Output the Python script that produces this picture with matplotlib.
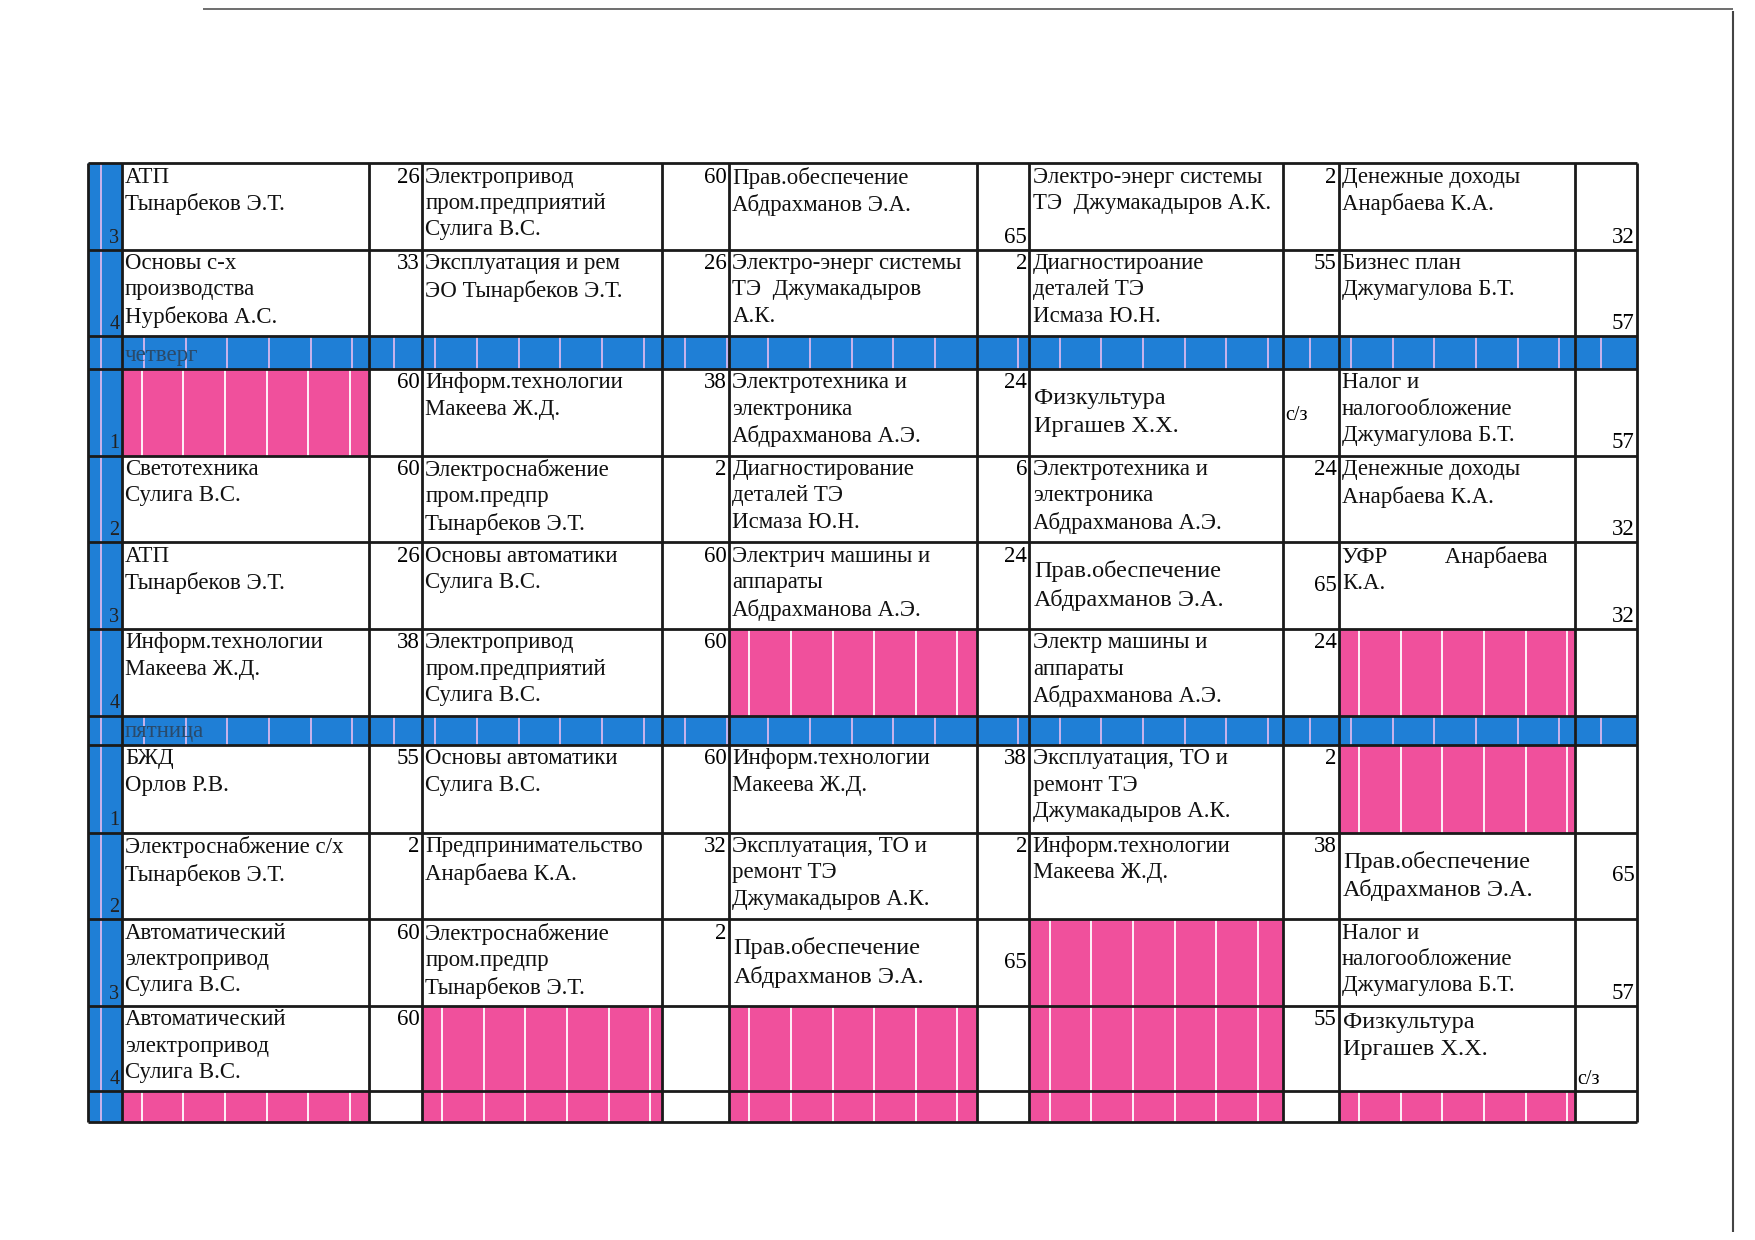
import numpy as np
import matplotlib.pyplot as plt

plt.rcParams['font.family'] = ['Liberation Serif', 'DejaVu Serif']

# column edges (page units), pairs: subject / room
col_x = [78, 108, 328, 375, 588, 648, 868, 915, 1140, 1190, 1400, 1455]
# row edges
row_y = [145, 222, 299, 328, 405, 482, 559, 636, 662, 740, 817, 894, 970, 997]

# each row: kind, lesson number, cells (text, room, text valign, room valign); None = pink
P = None
rows = [
    ('lesson', '3', [
        ("АТП\nТынарбеков Э.Т.", "26", 't', 't'),
        ("Электропривод\nпром.предприятий\nСулига В.С.", "60", 't', 't'),
        ("Прав.обеспечение\nАбдрахманов Э.А.", "65", 't', 'b'),
        ("Электро-энерг системы\nТЭ  Джумакадыров А.К.", "2", 't', 't'),
        ("Денежные доходы\nАнарбаева К.А.", "32", 't', 'b')]),
    ('lesson', '4', [
        ("Основы с-х\nпроизводства\nНурбекова А.С.", "33", 't', 't'),
        ("Эксплуатация и рем\nЭО Тынарбеков Э.Т.", "26", 't', 't'),
        ("Электро-энерг системы\nТЭ  Джумакадыров\nА.К.", "2", 't', 't'),
        ("Диагностироание\nдеталей ТЭ\nИсмаза Ю.Н.", "55", 't', 't'),
        ("Бизнес план\nДжумагулова Б.Т.", "57", 't', 'b')]),
    ('day', 'четверг', None),
    ('lesson', '1', [
        (P, "60", 't', 't'),
        ("Информ.технологии\nМакеева Ж.Д.", "38", 't', 't'),
        ("Электротехника и\nэлектроника\nАбдрахманова А.Э.", "24", 't', 't'),
        ("Физкультура\nИргашев Х.Х.", "с/з", 'c', 'cl'),
        ("Налог и\nналогообложение\nДжумагулова Б.Т.", "57", 't', 'b')]),
    ('lesson', '2', [
        ("Светотехника\nСулига В.С.", "60", 't', 't'),
        ("Электроснабжение\nпром.предпр\nТынарбеков Э.Т.", "2", 't', 't'),
        ("Диагностирование\nдеталей ТЭ\nИсмаза Ю.Н.", "6", 't', 't'),
        ("Электротехника и\nэлектроника\nАбдрахманова А.Э.", "24", 't', 't'),
        ("Денежные доходы\nАнарбаева К.А.", "32", 't', 'b')]),
    ('lesson', '3', [
        ("АТП\nТынарбеков Э.Т.", "26", 't', 't'),
        ("Основы автоматики\nСулига В.С.", "60", 't', 't'),
        ("Электрич машины и\nаппараты\nАбдрахманова А.Э.", "24", 't', 't'),
        ("Прав.обеспечение\nАбдрахманов Э.А.", "65", 'c', 'c'),
        ("УФР          Анарбаева\nК.А.", "32", 't', 'b')]),
    ('lesson', '4', [
        ("Информ.технологии\nМакеева Ж.Д.", "38", 't', 't'),
        ("Электропривод\nпром.предприятий\nСулига В.С.", "60", 't', 't'),
        (P, "", 't', 't'),
        ("Электр машины и\nаппараты\nАбдрахманова А.Э.", "24", 't', 't'),
        (P, "", 't', 't')]),
    ('day', 'пятница', None),
    ('lesson', '1', [
        ("БЖД\nОрлов Р.В.", "55", 't', 't'),
        ("Основы автоматики\nСулига В.С.", "60", 't', 't'),
        ("Информ.технологии\nМакеева Ж.Д.", "38", 't', 't'),
        ("Эксплуатация, ТО и\nремонт ТЭ\nДжумакадыров А.К.", "2", 't', 't'),
        (P, "", 't', 't')]),
    ('lesson', '2', [
        ("Электроснабжение с/х\nТынарбеков Э.Т.", "2", 't', 't'),
        ("Предпринимательство\nАнарбаева К.А.", "32", 't', 't'),
        ("Эксплуатация, ТО и\nремонт ТЭ\nДжумакадыров А.К.", "2", 't', 't'),
        ("Информ.технологии\nМакеева Ж.Д.", "38", 't', 't'),
        ("Прав.обеспечение\nАбдрахманов Э.А.", "65", 'c', 'c')]),
    ('lesson', '3', [
        ("Автоматический\nэлектропривод\nСулига В.С.", "60", 't', 't'),
        ("Электроснабжение\nпром.предпр\nТынарбеков Э.Т.", "2", 't', 't'),
        ("Прав.обеспечение\nАбдрахманов Э.А.", "65", 'c', 'c'),
        (P, "", 't', 't'),
        ("Налог и\nналогообложение\nДжумагулова Б.Т.", "57", 't', 'b')]),
    ('lesson', '4', [
        ("Автоматический\nэлектропривод\nСулига В.С.", "60", 't', 't'),
        (P, "", 't', 't'),
        (P, "", 't', 't'),
        (P, "55", 't', 't'),
        ("Физкультура\nИргашев Х.Х.", "с/з", 'tc', 'bl')]),
    ('strip', '', None),
]

BLUE = '#1f7fd6'
PINK = '#f0509c'
STRIPE = '#d8b8ee'
FS = 16.5

W, H = 1560, 1102
fig = plt.figure(figsize=(17.55, 12.40), dpi=100)
ax = fig.add_axes([0, 0, 1, 1])
ax.set_xlim(0, W)
ax.set_ylim(H, 0)
ax.axis('off')


def fill(x0, x1, y0, y1, color, stripe_col='white', step=37, off=18):
    ax.add_patch(plt.Rectangle((x0, y0), x1 - x0, y1 - y0, color=color, lw=0, zorder=1))
    xs = np.arange(x0 + off, x1 - 4, step)
    ax.vlines(xs, y0, y1, colors=stripe_col, lw=1.3, zorder=2)


for i, (kind, label, cells) in enumerate(rows):
    y0, y1 = row_y[i], row_y[i + 1]
    # left blue column
    fill(col_x[0], col_x[1], y0, y1, BLUE, STRIPE, step=40, off=12)
    if kind == 'day':
        fill(col_x[1], col_x[-1], y0, y1, BLUE, STRIPE, step=37, off=20)
        for k in range(1, len(col_x) - 1):
            ax.vlines(col_x[k], y0, y1, colors='#9fe3ff', lw=1, zorder=2)
        ax.text(col_x[1] + 3, y1 - 3, label, fontsize=FS, color='#2a4a6a',
                va='bottom', ha='left', zorder=3)
        continue
    if kind == 'strip':
        for c in range(5):
            fill(col_x[1 + 2 * c], col_x[2 + 2 * c], y0, y1, PINK)
        continue
    ax.text(col_x[1] - 2, y1 - 2, label, fontsize=FS - 2, color='#222',
            ha='right', va='bottom', zorder=3)
    for c, (txt, room, tv, rv) in enumerate(cells):
        sx0, sx1 = col_x[1 + 2 * c], col_x[2 + 2 * c]
        rx1 = col_x[3 + 2 * c]
        if txt is None:
            fill(sx0, sx1, y0, y1, PINK)
        else:
            if tv == 'c':
                ax.text(sx0 + 4, (y0 + y1) / 2, txt, fontsize=FS + 1, va='center',
                        ha='left', linespacing=1.4, zorder=3, color='#111')
            elif tv == 'tc':
                ax.text(sx0 + 4, y0 + 5, txt, fontsize=FS + 1, va='top',
                        ha='left', linespacing=1.4, zorder=3, color='#111')
            else:
                ax.text(sx0 + 3, y0 + 3, txt, fontsize=FS, va='top', ha='left',
                        linespacing=1.33, zorder=3, color='#111')
        if room:
            if rv == 't':
                ax.text(rx1 - 2, y0 + 3, room, fontsize=FS, ha='right', va='top', zorder=3)
            elif rv == 'b':
                ax.text(rx1 - 2, y1 - 2, room, fontsize=FS, ha='right', va='bottom', zorder=3)
            elif rv == 'c':
                ax.text(rx1 - 2, (y0 + y1) / 2, room, fontsize=FS, ha='right', va='center', zorder=3)
            elif rv == 'cl':
                ax.text(sx1 + 2, (y0 + y1) / 2 + 3, room, fontsize=FS - 2, ha='left', va='center', zorder=3)
            elif rv == 'bl':
                ax.text(sx1 + 2, y1 - 2, room, fontsize=FS - 2, ha='left', va='bottom', zorder=3)

# grid lines
y_top, y_bot = row_y[0], row_y[-1]
for x in col_x:
    ax.vlines(x, y_top, y_bot, colors='#1a1a1a', lw=2, zorder=4)
for y in row_y:
    ax.hlines(y, col_x[0], col_x[-1], colors='#1a1a1a', lw=2, zorder=4)

# scanned page border
ax.vlines(1540, 10, 1095, colors='#444', lw=1.5)
ax.hlines(8, 180, 1540, colors='#555', lw=1.2)

fig.savefig('out.png', dpi=100)
